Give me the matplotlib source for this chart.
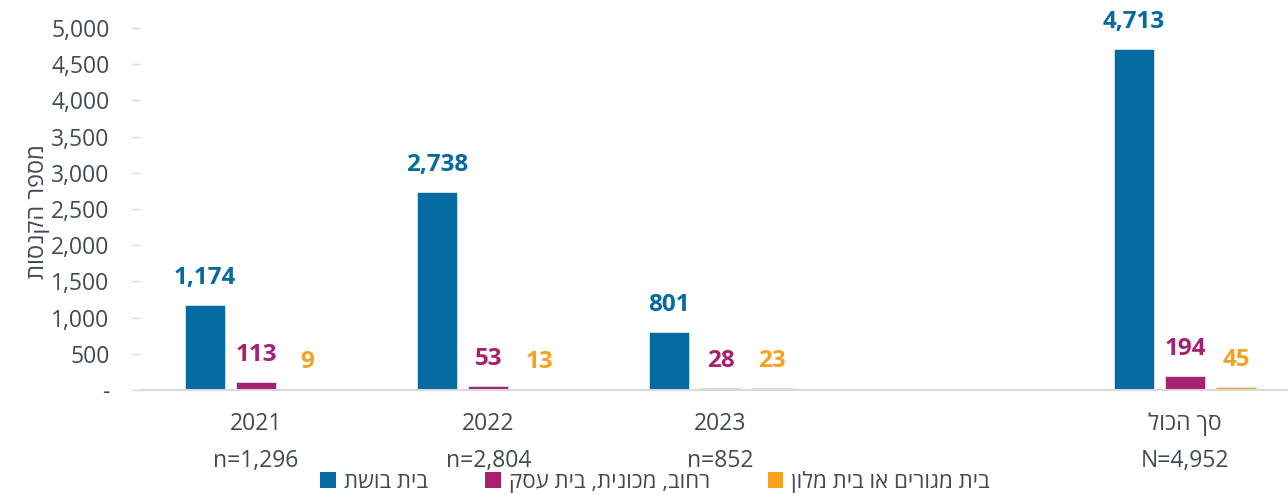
import matplotlib
matplotlib.use('Agg')
import matplotlib.pyplot as plt
from matplotlib.ticker import FuncFormatter, MultipleLocator
from matplotlib.patches import Patch


def rtl(s):
    # matplotlib has no bidi support - reverse Hebrew for visual order
    return s[::-1]


# data
groups = ['2021', '2022', '2023', 'סך הכול']
group_n = ['n=1,296', 'n=2,804', 'n=852', 'N=4,952']
series_names = ['בית בושת', 'רחוב, מכונית, בית עסק', 'בית מגורים או בית מלון']
brothel = [1174, 2738, 801, 4713]
street = [113, 53, 28, 194]
home_hotel = [9, 13, 23, 45]
series = [brothel, street, home_hotel]
colors = ['#036BA0', '#A8206F', '#F8A11E']

plt.rcParams['font.family'] = ['Open Sans', 'DejaVu Sans']
text_color = '#404a55'

fig = plt.figure(figsize=(12.88, 4.95), dpi=100)
ax = fig.add_axes([140 / 1288, 1 - 390 / 495, 1 - 140 / 1288, (390 - 28) / 495])

# empty slot between 2023 and the total
pos = [0, 1, 2, 4]
width = 0.172
step = 0.22

for i, vals in enumerate(series):
    xs = [p + (i - 1) * step for p in pos]
    ax.bar(xs, vals, width, color=colors[i], edgecolor='#d6e6ef',
           linewidth=0.6, label=rtl(series_names[i]))
    for x, v in zip(xs, vals):
        ax.annotate(f'{v:,}', (x, v), xytext=(0, 19.5), textcoords='offset points',
                    ha='center', va='center', fontsize=17.5, fontweight='bold',
                    color=colors[i])

ax.set_xlim(-0.5, 4.444)
ax.set_ylim(0, 5000)
ax.yaxis.set_major_locator(MultipleLocator(500))
ax.yaxis.set_major_formatter(FuncFormatter(lambda v, p: '-' if v == 0 else f'{v:,.0f}'))

ax.set_xticks(pos)
ax.set_xticklabels([(g if g.isdigit() else rtl(g)) + '\n' + n for g, n in zip(groups, group_n)],
                   linespacing=1.7)

for s in ['top', 'right', 'left']:
    ax.spines[s].set_visible(False)
ax.spines['bottom'].set_color('#d9d9d9')
ax.spines['bottom'].set_linewidth(1.5)

ax.tick_params(axis='x', length=0, pad=16, labelsize=16.5, labelcolor=text_color)
ax.tick_params(axis='y', length=6, width=1, color='#d9d9d9', pad=16,
               labelsize=16.5, labelcolor=text_color)

fig.text(38 / 1288, 1 - 212 / 495, rtl('מספר הקנסות'), rotation=90,
         ha='center', va='center', fontsize=17, color=text_color)

handles = [Patch(facecolor=c, label=rtl(n)) for c, n in zip(colors, series_names)]
fig.legend(handles=handles, loc='center', bbox_to_anchor=(655 / 1288, 1 - 482 / 495),
           ncol=3, frameon=False, fontsize=16, handlelength=0.7, handleheight=0.7,
           handletextpad=0.35, columnspacing=2.6, labelcolor=text_color)

fig.savefig('out.png', dpi=100)
